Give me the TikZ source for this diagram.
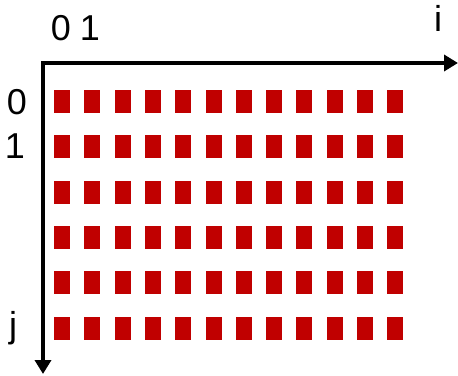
\documentclass[tikz,border=0pt]{standalone}
\usepackage{fontspec}
\setmainfont{Liberation Sans}
\usetikzlibrary{arrows.meta}
\definecolor{cellred}{HTML}{C00000}
\begin{document}
\begin{tikzpicture}[x=1pt,y=-1pt,
  axis/.style={line width=4pt,-{Triangle[length=14pt,width=16pt]}},
  cell/.style={fill=cellred,draw=none},
  lbl/.style={font=\fontsize{36}{40}\selectfont,inner sep=0pt,anchor=base}]
\useasboundingbox (0,0) rectangle (458,375);
\coordinate (o) at (43,63);
\coordinate (ie) at (458,63);
\coordinate (je) at (43,374);
\draw[axis] ([xshift=-2pt]o) -- (ie);
\draw[axis] ([yshift=-2pt]o) -- (je);
\foreach \c in {0,...,11}{
  \foreach \r in {0,...,5}{
    \fill[cell] ({54+30.3*\c},{90+45.3*\r}) rectangle ++(16,23);
  }
}
\node[lbl] (c0) at (61,40) {0};
\node[lbl] (c1) at (90,40) {1};
\node[lbl] (r0) at (17,114) {0};
\node[lbl] (r1) at (15,158) {1};
\node[lbl] (il) at (438,31) {i};
\node[lbl] (jl) at (13,337) {j};
\end{tikzpicture}
\end{document}
